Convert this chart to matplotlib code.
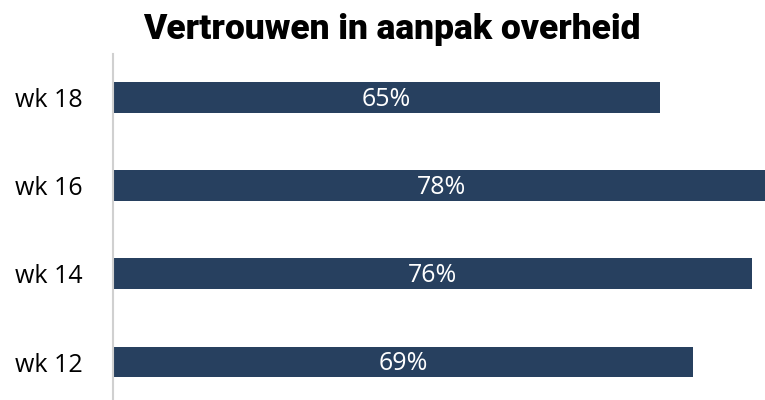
import matplotlib
matplotlib.use("Agg")
import matplotlib.pyplot as plt

# data
weeks = ["wk 12", "wk 14", "wk 16", "wk 18"]
vertrouwen = [69, 76, 78, 65]

bar_color = "#27405f"
axis_color = "#d0d0d0"
label_font = ['Open Sans', 'DejaVu Sans']

plt.rcParams['font.family'] = ['Roboto', 'DejaVu Sans']

fig = plt.figure(figsize=(7.65, 4.0), dpi=100)
ax = fig.add_axes([113 / 765, 0.0, 1 - 113 / 765, 1 - 54 / 400])

bars = ax.barh(weeks, vertrouwen, height=0.35, color=bar_color)

for i, v in enumerate(vertrouwen):
    ax.text(v / 2, i - 0.02, f"{v}%", color="white", ha="center", va="center",
            fontsize=18, family=label_font)

ax.set_xlim(0, 77.5)
ax.set_ylim(-0.43, 3.49)

for s in ["top", "right", "bottom"]:
    ax.spines[s].set_visible(False)
ax.spines["left"].set_color(axis_color)
ax.spines["left"].set_linewidth(1.5)
ax.set_xticks([])
ax.tick_params(axis="y", length=0, pad=22, labelsize=18)
for lbl in ax.get_yticklabels():
    lbl.set_family(label_font)

fig.text(392 / 765, 1 - 29 / 400, "Vertrouwen in aanpak overheid",
         ha="center", va="center", fontsize=25.5, fontweight="black")

fig.savefig("out.png", dpi=100)
